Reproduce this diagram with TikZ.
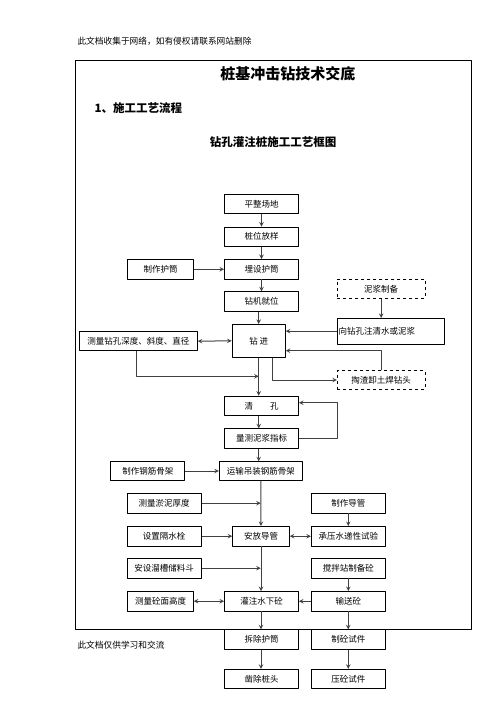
\documentclass[tikz,border=0pt]{standalone}
\usepackage{fontspec}
\newfontfamily\cjk{Noto Sans CJK SC}
\usetikzlibrary{arrows}
\begin{document}
\begin{tikzpicture}[x=1pt, y=-1pt, font=\cjk\fontsize{8.5}{10}\selectfont, line join=round, >=stealth,
  box/.style={draw, line width=0.8pt, minimum width=74pt, minimum height=19.5pt, inner sep=0pt},
  dbox/.style={box, dashed},
  lnk/.style={draw=black!75, line width=1pt}]
\useasboundingbox (0,0) rectangle (496,702);
% page texts and frame
\node[anchor=west, font=\cjk\fontsize{8.7}{10}\selectfont] (head) at (74,41) {此文档收集于网络，如有侵权请联系网站删除};
\node[anchor=west, font=\cjk\fontsize{8.7}{10}\selectfont] (foot) at (74,645) {此文档仅供学习和交流};
\draw[line width=1pt] (75,60) rectangle (471.3,629.3);
\node[font=\cjk\bfseries\fontsize{15}{17}\selectfont] (title) at (287.8,73.5) {桩基冲击钻技术交底};
\node[anchor=west, font=\cjk\bfseries\fontsize{11.5}{13}\selectfont] (sec) at (91,108) {1、施工工艺流程};
\node[font=\cjk\bfseries\fontsize{11.5}{13}\selectfont] (cap) at (273,142) {钻孔灌注桩施工工艺框图};
% boxes
\node[box] (pzcd) at (261.5,204) {平整场地};
\node[box] (zwfy) at (261.5,236.7) {桩位放样};
\node[box] (msht) at (261.5,269.2) {埋设护筒};
\node[box, minimum width=65.6pt] (zzht) at (160.5,269.2) {制作护筒};
\node[dbox, minimum width=87.7pt] (njzb) at (381.2,289) {泥浆制备};
\node[box] (zjjw) at (261.5,301.5) {钻机就位};
\node[box, minimum width=53.3pt, minimum height=33pt] (zj) at (258.7,340.8) {钻\ 进};
\node[box, minimum width=107.4pt, minimum height=25.7pt, align=left, text width=105pt] (zs) at (391,331.2) {向钻孔注清水或泥浆};
\node[box, minimum width=118pt, minimum height=19pt] (clzk) at (138.3,341.2) {测量钻孔深度、斜度、直径};
\node[dbox, minimum width=87.7pt, minimum height=18.5pt] (tz) at (381.2,380) {掏渣卸土焊钻头};
\node[box] (qk) at (261.5,405.8) {清\qquad 孔};
\node[box] (lcnj) at (261.5,438.5) {量测泥浆指标};
\node[box, minimum height=18.6pt] (zzgj) at (147.8,471) {制作钢筋骨架};
\node[box, minimum width=83pt, minimum height=18.6pt] (ysgj) at (260.8,471) {运输吊装钢筋骨架};
\node[box] (clyn) at (164.2,503.2) {测量淤泥厚度};
\node[box] (zzdg) at (348.3,503.2) {制作导管};
\node[box] (szgs) at (164.2,536.2) {设置隔水栓};
\node[box, minimum width=56.6pt] (afdg) at (261,536.2) {安放导管};
\node[box] (cysy) at (348.3,536.2) {承压水递性试验};
\node[box] (asll) at (164.2,568.2) {安设溜槽储料斗};
\node[box] (jbz) at (348.3,568.2) {搅拌站制备砼};
\node[box, minimum width=65.6pt] (clmg) at (160.5,601.2) {测量砼面高度};
\node[box] (gz) at (261.5,601.2) {灌注水下砼};
\node[box] (ssd) at (348.3,601.2) {输送砼};
\node[box] (ccht) at (261.5,639.5) {拆除护筒};
\node[box] (zsj) at (348.3,639.5) {制砼试件};
\node[box] (zczt) at (261.5,679) {凿除桩头};
\node[box] (ysj) at (348.3,679) {压砼试件};
% main flow
\draw[lnk,->] (pzcd) -- (zwfy);
\draw[lnk,->] (zwfy) -- (msht);
\draw[lnk,->] (zzht) -- (msht);
\draw[lnk,->] (msht) -- (zjjw);
\draw[lnk,->] (zjjw.south -| zj) -- (zj);
\draw[lnk,->] (zj.south) -- (qk.north -| zj);
\draw[lnk,->] (qk.south -| zj) -- (lcnj.north -| zj);
\draw[lnk,->] (lcnj.south -| zj) -- (ysgj.north -| zj);
\draw[lnk,->] (ysgj) -- (afdg);
\draw[lnk,->] (afdg) -- (gz.north -| afdg);
\draw[lnk,->] (gz.south -| afdg) -- (ccht.north -| afdg);
\draw[lnk,->] (ccht.south -| afdg) -- (zczt.north -| afdg);
% drilling loop
\draw[lnk,<->] (clzk.east) -- (zj.west);
\draw[lnk,->] (njzb.south -| tz) -- (zs.north -| tz);
\draw[lnk,->] (zs.west) -- (zs.west -| zj.east);
\draw[lnk,->] (tz.north) |- (zj.east |- 0,350.7);
\draw[lnk,->] (zj.south -| 272,0) |- (tz.west);
\draw[lnk,->] (clzk.south -| 136.7,0) |- (zj.south |- 0,376.3);
\draw[lnk,->] (lcnj.east) -| (337.3,402.7) -- (qk.east |- 0,402.7);
% cage, tube, concrete
\draw[lnk,->] (zzgj) -- (ysgj);
\draw[lnk,->] (clyn.east) -- (clyn.east -| ysgj);
\draw[lnk,->] (szgs) -- (afdg);
\draw[lnk,->] (asll.east) -- (asll.east -| ysgj);
\draw[lnk,<->] (afdg) -- (cysy);
\draw[lnk,->] (zzdg) -- (cysy);
\draw[lnk,->] (jbz) -- (ssd);
\draw[lnk,->] (ssd) -- (gz);
\draw[lnk,<->] (clmg) -- (gz);
\draw[lnk,->] (ssd) -- (zsj);
\draw[lnk,->] (zsj) -- (ysj);
\end{tikzpicture}
\end{document}
